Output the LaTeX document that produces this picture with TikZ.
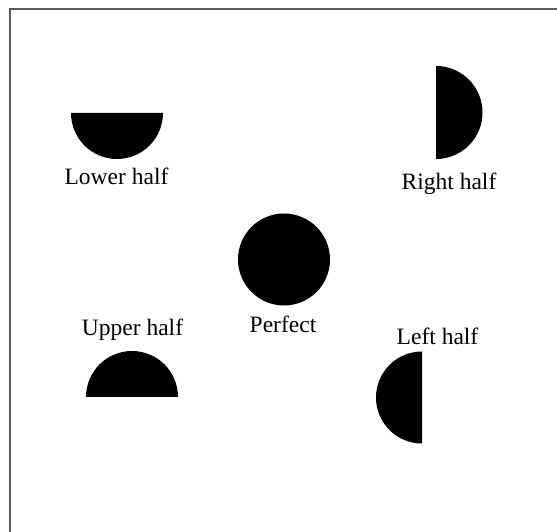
\documentclass[tikz,border=0pt]{standalone}
\usepackage{fontspec}
\setmainfont{Liberation Serif}
\begin{document}
\begin{tikzpicture}[x=1pt,y=1pt,
  lbl/.style={anchor=base,inner sep=0pt,font=\fontsize{23.5}{23.5}\selectfont},
  moon/.style={fill=black},
  frameline/.style={draw=black!65,line width=2pt}]
\useasboundingbox (0,0) rectangle (557,532);
\fill[white] (0,0) rectangle (557,532);
\draw[frameline] (9.5,-2) -- (9.5,522.5) -- (559,522.5);
% shapes
\fill[moon] (71,419) arc[start angle=180,end angle=360,radius=46] -- cycle;
\fill[moon] (436,466) arc[start angle=90,end angle=-90,radius=46.5] -- cycle;
\fill[moon] (284,272.5) circle[radius=46];
\fill[moon] (86,135) arc[start angle=180,end angle=0,radius=46] -- cycle;
\fill[moon] (422,180.5) arc[start angle=90,end angle=270,radius=46] -- cycle;
% labels
\node[lbl] (lower) at (116.5,347) {Lower half};
\node[lbl] (right) at (449,342) {Right half};
\node[lbl] (perfect) at (283,199) {Perfect};
\node[lbl] (upper) at (132.5,196) {Upper half};
\node[lbl] (left) at (437.5,187) {Left half};
\end{tikzpicture}
\end{document}
